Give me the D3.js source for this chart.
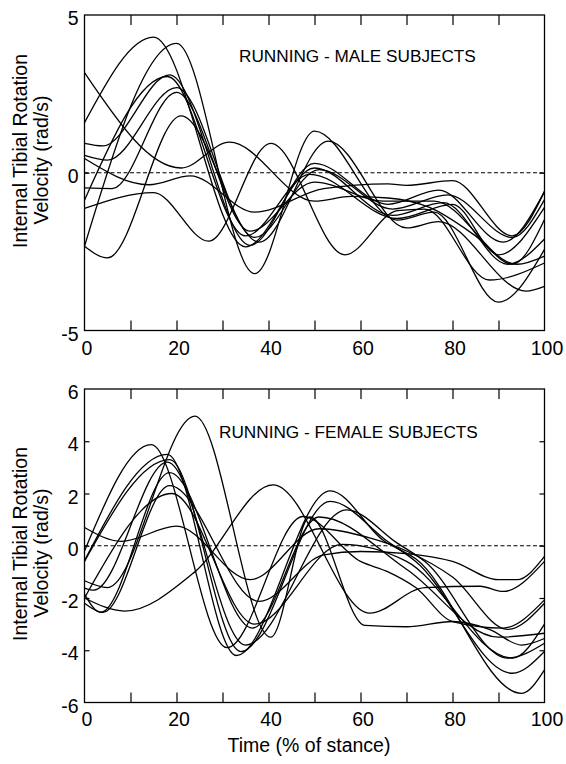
<!DOCTYPE html>
<html><head><meta charset="utf-8">
<script src="https://cdn.jsdelivr.net/npm/d3@7"></script>
<style>
body{margin:0;background:#fff}
svg{display:block}
text{font-family:"Liberation Sans",Arial,Helvetica,sans-serif;fill:#000}
</style>
</head><body>
<svg id="chart" width="566" height="764"></svg>
<script>
// ---------- data ----------
const xLabelTicks = [0, 20, 40, 60, 80, 100];
const xMarkTicks = [10, 20, 30, 40, 50, 60, 70, 80, 90];
const maleYTicks = [-5, 0, 5];
const femaleYTicks = [-6, -4, -2, 0, 2, 4, 6];
const maleTitle = "RUNNING - MALE SUBJECTS";
const femaleTitle = "RUNNING - FEMALE SUBJECTS";
const yLabelLines = ["Internal Tibial Rotation", "Velocity (rad/s)"];
const xLabel = "Time (% of stance)";

// male subjects: [time %, velocity rad/s]
const male1 = [[0,1.59],[15,4.3],[35,-2.35],[50,0.15],[67,-1.35],[78,-0.95],[92,-2.9],[100,-2.1]];
const male2 = [[0,-2.33],[20,4.1],[37,-3.2],[50,1.32],[68,-1.5],[76,-1.25],[90,-4.1],[100,-2.43]];
const male3 = [[0,-2.33],[5,-2.7],[21,1.8],[38,-2.2],[53,1.0],[70,-1.75],[77,-1.55],[96,-3.75],[100,-3.6]];
const male4 = [[0,0.93],[4,0.85],[18.5,3.1],[36,-2.3],[50,0.3],[66,-1.0],[77,-0.55],[91,-2.2],[100,-0.6]];
const male5 = [[0,0.55],[5,0.4],[20,2.7],[37,-2.05],[51,0.1],[67,-1.15],[79,-0.7],[93,-2.05],[100,-0.85]];
const male6 = [[0,-0.87],[18,3.05],[35,-2.0],[49,-0.05],[68,-1.45],[80,-1.0],[90,-2.6],[100,-1.1]];
const male7 = [[0,-0.48],[6,-0.5],[20,2.55],[36,-1.85],[50,-0.3],[65,-0.9],[76,-0.9],[94,-2.9],[100,-2.64]];
const male8 = [[0,3.17],[21,0.15],[31.5,0.97],[50,-0.9],[58,-0.75],[66,-0.8],[75,-1.1],[85,-2.0],[93,-2.9],[100,-1.48]];
const male9 = [[0,-1.13],[15,-0.63],[27,-2.17],[40.5,0.93],[56.6,-2.6],[68,-1.2],[74,-1.15],[88,-3.4],[100,-2.86]];
const male10 = [[0,0.45],[14,-0.38],[23,-0.1],[37,-1.25],[52,-0.5],[66,-0.35],[70,-0.4],[80,-0.25],[93,-2.0],[100,-0.59]];

// female subjects: [time %, velocity rad/s]
const female1 = [[0,-1.34],[5,-1.6],[24,4.96],[40.5,-3.5],[49,1.1],[61,-3.05],[70,-3.1],[80,-2.9],[88,-3.2],[95,-3.8],[100,-3.55]];
const female2 = [[0,-0.2],[14.5,3.87],[31,-3.9],[47.5,1.12],[60,-0.6],[66,-1.0],[72,-1.6],[80,-2.9],[91,-3.15],[100,-2.07]];
const female3 = [[0,-0.57],[18,3.5],[33,-4.2],[53.4,2.1],[65,0.2],[72,-0.5],[95,-5.65],[100,-4.75]];
const female4 = [[0,-0.6],[18.5,3.3],[34,-4.05],[53.4,1.7],[66,0.15],[72,-0.6],[93,-4.88],[100,-4.05]];
const female5 = [[0,-1.62],[2,-1.7],[18,3.2],[35,-3.8],[57,1.37],[68,0.1],[74,-0.6],[92,-4.3],[100,-3.73]];
const female6 = [[0,-1.85],[3.5,-2.55],[18.5,2.8],[36.5,-3.15],[51,1.1],[70,-0.9],[90,-3.5],[100,-3.35]];
const female7 = [[0,-2.2],[4,-2.55],[18.5,2.3],[38,-2.13],[52,-0.35],[60,-0.22],[70,-0.3],[80,-0.6],[90,-1.3],[94,-1.3],[100,-0.41]];
const female8 = [[0,-2.0],[8.7,-2.5],[24,-1.0],[41,2.33],[62,-2.58],[74,-1.6],[86,-1.55],[91,-1.75],[100,-0.6]];
const female9 = [[0,0.7],[8,0.17],[20,0.75],[36,-1.3],[51,0.65],[62,0.3],[70,-0.2],[80,-1.2],[92,-3.2],[100,-2.2]];
const female10 = [[0,-2.0],[19,2.0],[37,-3.0],[56,0.05],[70,-0.6],[93,-4.3],[100,-3.0]];

const maleSeries = [male1, male2, male3, male4, male5, male6, male7, male8, male9, male10];
const femaleSeries = [female1, female2, female3, female4, female5, female6, female7, female8, female9, female10];

// ---------- drawing ----------
const svg = d3.select("#chart");
svg.append("rect").attr("width", 566).attr("height", 764).attr("fill", "#fff");

const x = d3.scaleLinear().domain([0, 100]).range([84.5, 544.5]);

const panels = [
  {series: maleSeries, yDomain: [-5, 5], top: 15, bottom: 330.5, yTicks: maleYTicks,
   title: maleTitle, titleX: 239, titleY: 62, xLabY: 355, yl1: 151, yl2: 160},
  {series: femaleSeries, yDomain: [-6, 6], top: 389, bottom: 702.5, yTicks: femaleYTicks,
   title: femaleTitle, titleX: 219, titleY: 438, xLabY: 726, yl1: 544, yl2: 553}
];

panels.forEach(p => {
  const y = d3.scaleLinear().domain(p.yDomain).range([p.bottom, p.top]);
  const g = svg.append("g");
  const innerY = p.yTicks.slice(1, -1);

  // inward ticks
  const tickStyle = sel => {
    sel.select(".domain").remove();
    sel.selectAll(".tick line").attr("stroke", "#000").attr("stroke-width", 1.2);
    sel.selectAll(".tick text").remove();
  };
  g.append("g").attr("transform", `translate(0,${p.bottom})`)
    .call(d3.axisBottom(x).tickValues(xMarkTicks).tickSize(-10)).call(tickStyle);
  g.append("g").attr("transform", `translate(0,${p.top})`)
    .call(d3.axisTop(x).tickValues(xMarkTicks).tickSize(-10)).call(tickStyle);
  g.append("g").attr("transform", `translate(${x(0)},0)`)
    .call(d3.axisLeft(y).tickValues(innerY).tickSize(-5)).call(tickStyle);
  g.append("g").attr("transform", `translate(${x(100)},0)`)
    .call(d3.axisRight(y).tickValues(innerY).tickSize(-5)).call(tickStyle);

  // zero dashed line
  g.append("line").attr("x1", x(0)).attr("x2", x(100)).attr("y1", y(0)).attr("y2", y(0))
    .attr("stroke", "#000").attr("stroke-width", 1.1).attr("stroke-dasharray", "4,2.5");

  // curves
  const line = d3.line().x(d => x(d[0])).y(d => y(d[1])).curve(d3.curveMonotoneX);
  g.selectAll("path.curve").data(p.series).enter().append("path")
    .attr("class", "curve").attr("d", line)
    .attr("fill", "none").attr("stroke", "#000").attr("stroke-width", 1.3);

  // frame
  g.append("rect").attr("x", x(0)).attr("y", p.top)
    .attr("width", x(100) - x(0)).attr("height", p.bottom - p.top)
    .attr("fill", "none").attr("stroke", "#000").attr("stroke-width", 1.3);

  // tick labels
  g.selectAll("text.xl").data(xLabelTicks).enter().append("text")
    .attr("x", d => x(d) + 2.5).attr("y", p.xLabY).attr("text-anchor", "middle")
    .attr("font-size", 19.5).text(d => d);
  g.selectAll("text.yl").data(p.yTicks).enter().append("text")
    .attr("x", 78.5).attr("y", d => y(d) + 3).attr("dy", "0.36em").attr("text-anchor", "end")
    .attr("font-size", 19.5).text(d => d);

  // title
  g.append("text").attr("x", p.titleX).attr("y", p.titleY).attr("font-size", 17.2).text(p.title);

  // y-axis label
  g.append("text").attr("transform", `translate(27,${p.yl1}) rotate(-90)`)
    .attr("text-anchor", "middle").attr("font-size", 19.5).text(yLabelLines[0]);
  g.append("text").attr("transform", `translate(47.5,${p.yl2}) rotate(-90)`)
    .attr("text-anchor", "middle").attr("font-size", 19.5).text(yLabelLines[1]);
});

svg.append("text").attr("x", 309).attr("y", 752).attr("text-anchor", "middle")
  .attr("font-size", 19.5).text(xLabel);
</script>
</body></html>
